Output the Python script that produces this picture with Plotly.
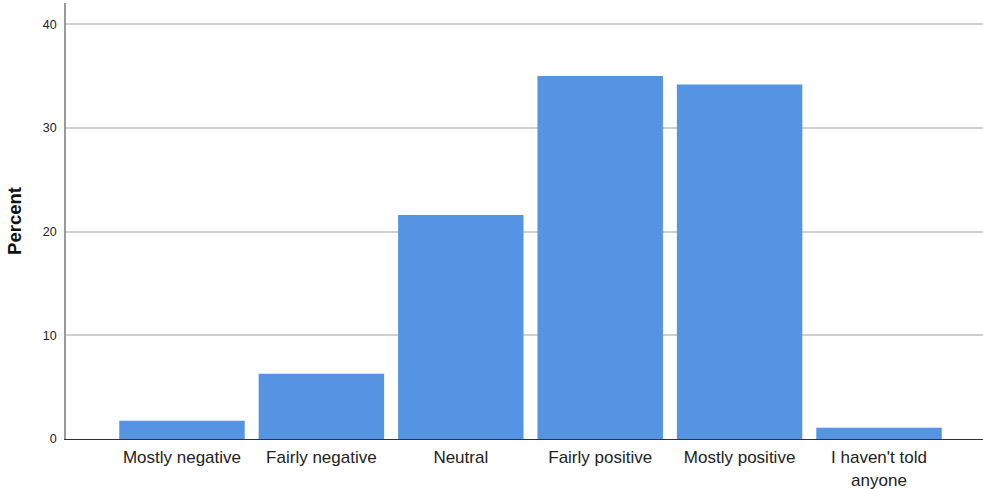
import plotly.graph_objects as go

categories = ["Mostly negative", "Fairly negative", "Neutral", "Fairly positive", "Mostly positive", "I haven't told<br>anyone"]
percent = [1.75, 6.3, 21.6, 35.0, 34.2, 1.08]
y_ticks = [0, 10, 20, 30, 40]

fig = go.Figure(go.Bar(
    x=list(range(len(categories))),
    y=percent,
    marker=dict(color="#5594E2", line=dict(width=0)),
    width=0.9,
))

fig.update_layout(
    width=983, height=489,
    margin=dict(l=66, r=0, t=3, b=50, autoexpand=False),
    paper_bgcolor="white", plot_bgcolor="white",
    font=dict(family="Liberation Sans, Arial, sans-serif", color="#222"),
    showlegend=False,
)
fig.update_xaxes(
    range=[-0.832, 5.746], automargin=False,
    tickmode="array", tickvals=list(range(len(categories))), ticktext=categories,
    tickfont=dict(size=17, color="#222"),
    showgrid=False, zeroline=False,
    showline=True, linecolor="#333", linewidth=1,
    ticks="", ticklabelstandoff=3,
)
fig.update_yaxes(
    range=[0, 42.05], automargin=False,
    tickmode="array", tickvals=y_ticks,
    tickfont=dict(size=12.5, color="#222"),
    showgrid=True, gridcolor="#cfcfcf", gridwidth=1.5,
    zeroline=False,
    showline=True, linecolor="#999", linewidth=1.5,
    ticks="", ticklabelstandoff=5,
    title=dict(text="<b>Percent</b>", font=dict(size=18.5, color="#111"), standoff=16),
)

fig.write_html("out.html", config={"displayModeBar": False},
               post_script="document.body.style.margin='0';document.body.style.overflow='hidden';")
